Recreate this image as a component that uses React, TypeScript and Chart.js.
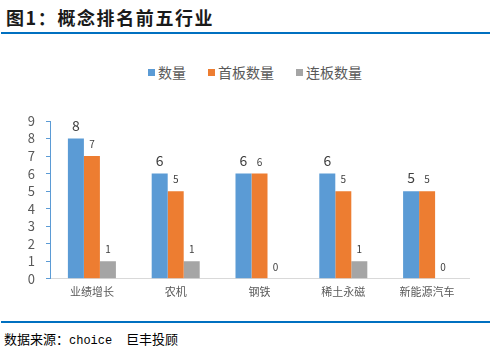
import React, { useEffect, useRef } from "react";
import { Chart, registerables } from "chart.js";

Chart.register(...registerables);

const categories = ["业绩增长", "农机", "钢铁", "稀土永磁", "新能源汽车"];
const seriesNames = ["数量", "首板数量", "连板数量"];
const countValues = [8, 6, 6, 6, 5];
const firstBoardValues = [7, 5, 6, 5, 5];
const consecutiveValues = [1, 1, 0, 1, 0];
const seriesColors = ["#5b9bd5", "#ed7d31", "#a5a5a5"];
const labelSizes = [14, 10, 10];
const legendX = [148, 208, 296];
const yMin = 0;
const yMax = 9;

const CJK = '"Noto Sans CJK SC", "Noto Sans", sans-serif';

const valueLabels = {
  id: "valueLabels",
  afterDatasetsDraw(chart: any) {
    const ctx = chart.ctx;
    ctx.save();
    ctx.textAlign = "center";
    ctx.textBaseline = "alphabetic";
    ctx.fillStyle = "#404040";
    chart.data.datasets.forEach((ds: any, i: number) => {
      const meta = chart.getDatasetMeta(i);
      ctx.font = `${labelSizes[i]}px ${CJK}`;
      meta.data.forEach((el: any, j: number) => {
        ctx.fillText(String(ds.data[j]), el.x, el.y - 8);
      });
    });
    ctx.restore();
  },
};

export default function App() {
  const ref = useRef<HTMLCanvasElement>(null);
  useEffect(() => {
    document.body.style.margin = "0";
    const chart = new Chart(ref.current!, {
      type: "bar",
      data: {
        labels: categories,
        datasets: [countValues, firstBoardValues, consecutiveValues].map((d, i) => ({
          label: seriesNames[i],
          data: d,
          backgroundColor: seriesColors[i],
          borderWidth: 0,
          categoryPercentage: 0.573,
          barPercentage: 1,
        })),
      },
      options: {
        animation: false,
        responsive: false,
        devicePixelRatio: 1,
        layout: { padding: { left: 0, right: 22, top: 81, bottom: 14 } },
        plugins: {
          legend: { display: false },
          tooltip: { enabled: false },
        },
        scales: {
          x: {
            grid: { display: false, drawTicks: false, tickLength: 0 },
            border: { color: "#d9d9d9", width: 1 },
            ticks: { color: "#595959", font: { size: 11, family: CJK }, padding: 6 },
          },
          y: {
            min: yMin,
            max: yMax,
            afterFit: (s: any) => {
              s.width = 50;
            },
            grid: { display: true, drawOnChartArea: false, drawTicks: true, tickLength: 4, color: "#5b9bd5" },
            border: { color: "#5b9bd5", width: 1 },
            ticks: {
              stepSize: 1,
              autoSkip: false,
              color: "#595959",
              font: { size: 13, family: CJK },
              padding: 11,
            },
          },
        },
      },
      plugins: [valueLabels],
    });
    return () => chart.destroy();
  }, []);

  return (
    <div style={{ position: "relative", width: 491, height: 356, background: "#fff", overflow: "hidden" }}>
      <div
        style={{
          position: "absolute",
          left: 6,
          top: 8,
          fontFamily: CJK,
          fontWeight: 700,
          fontSize: 18,
          lineHeight: "18px",
          letterSpacing: "1.6px",
          color: "#1a1a1a",
          whiteSpace: "nowrap",
        }}
      >
        图1：概念排名前五行业
      </div>
      <div style={{ position: "absolute", left: 1, top: 32, width: 489, height: 2, background: "#0070c0" }} />
      {seriesNames.map((name, i) => (
        <div key={name}>
          <div
            style={{
              position: "absolute",
              left: legendX[i],
              top: 69,
              width: 7,
              height: 7,
              background: seriesColors[i],
            }}
          />
          <div
            style={{
              position: "absolute",
              left: legendX[i] + 10,
              top: 65,
              fontFamily: CJK,
              fontSize: 14,
              lineHeight: "14px",
              color: "#595959",
              whiteSpace: "nowrap",
            }}
          >
            {name}
          </div>
        </div>
      ))}
      <canvas ref={ref} width={491} height={278} style={{ position: "absolute", left: 0, top: 40 }} />
      <div style={{ position: "absolute", left: 1, top: 321, width: 489, height: 2, background: "#0070c0" }} />
      <div
        style={{
          position: "absolute",
          left: 4,
          top: 332,
          fontFamily: CJK,
          fontSize: 13,
          lineHeight: "13px",
          color: "#000",
          whiteSpace: "nowrap",
        }}
      >
        数据来源：<span style={{ fontFamily: '"Liberation Mono", monospace', fontSize: 12 }}>choice</span>
      </div>
      <div
        style={{
          position: "absolute",
          left: 126,
          top: 332,
          fontFamily: CJK,
          fontSize: 13,
          lineHeight: "13px",
          color: "#000",
          whiteSpace: "nowrap",
        }}
      >
        巨丰投顾
      </div>
    </div>
  );
}
